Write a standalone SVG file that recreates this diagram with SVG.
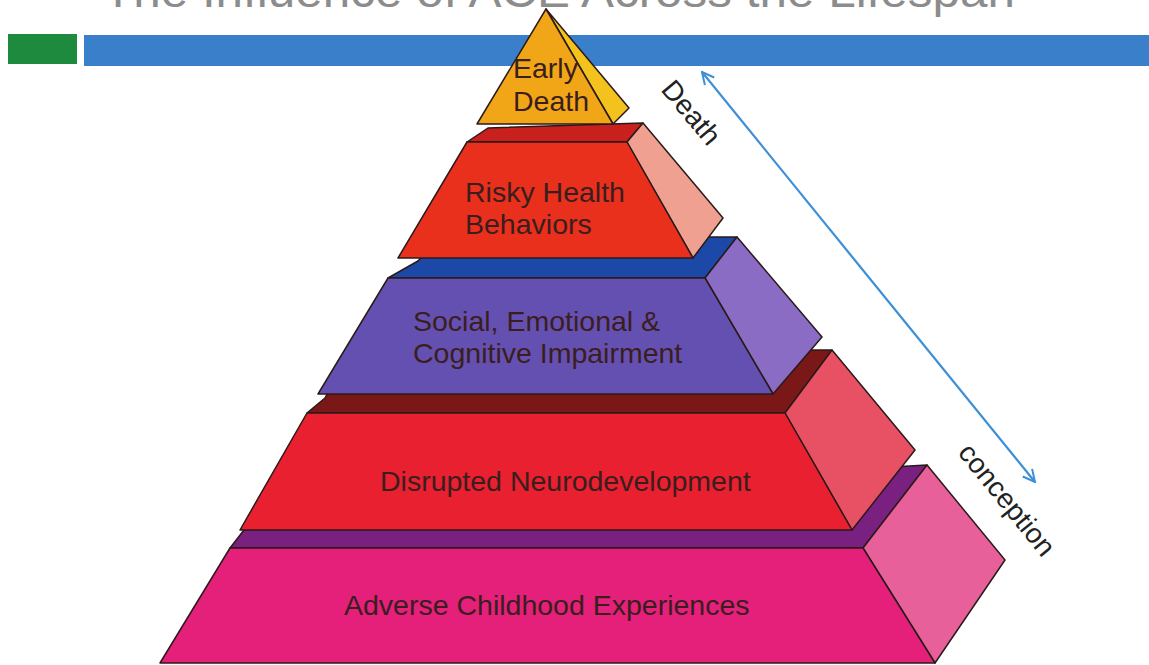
<svg xmlns="http://www.w3.org/2000/svg" width="1149" height="665" viewBox="0 0 1149 665">
<defs>
<style>
.f{stroke:#2a1a1a;stroke-width:1.5;stroke-linejoin:round}
.t{font-family:"Liberation Sans",Arial,sans-serif;font-size:28.5px;fill:#3a1e1e}
.lbl{font-family:"Liberation Sans",Arial,sans-serif;font-size:28px;fill:#222}
</style>
<marker id="ah" viewBox="0 0 14 14" refX="13" refY="7" markerWidth="14" markerHeight="14" markerUnits="userSpaceOnUse" orient="auto-start-reverse">
<path d="M1,1 L13,7 L1,13" fill="none" stroke="#3d8fd6" stroke-width="2"/>
</marker>
</defs>
<rect width="1149" height="665" fill="#ffffff"/>
<g id="header">
<text x="103" y="7" font-family="Liberation Sans, Arial, sans-serif" font-size="46" fill="#8c8c8c" textLength="912" lengthAdjust="spacingAndGlyphs">The Influence of ACE Across the Lifespan</text>
<rect x="8" y="34" width="69" height="30" fill="#1e8a3e"/>
<rect x="84" y="35" width="1065" height="31" fill="#3a7fca"/>
</g>
<g id="tier-adverse">
<polygon class="f" fill="#7a2080" points="230,548 244,530 840,470 927,465 863,548"/>
<polygon class="f" fill="#e8609a" points="863,548 927,465 1005,560 935,663"/>
<polygon class="f" fill="#e4207a" points="230,548 863,548 935,663 160,663"/>
<text class="t" x="344" y="615">Adverse Childhood Experiences</text>
</g>
<g id="tier-disrupted">
<polygon class="f" fill="#7a1818" points="307,413 325,398 350,350 832,350 785,413"/>
<polygon class="f" fill="#e85064" points="785,413 832,350 915,450 852,530"/>
<polygon class="f" fill="#e82030" points="307,413 785,413 852,530 240,530"/>
<text class="t" x="380" y="491">Disrupted Neurodevelopment</text>
</g>
<g id="tier-social">
<polygon class="f" fill="#1c48a8" points="388,278 418,261 440,237 737,237 705,278"/>
<polygon class="f" fill="#8a6cc4" points="705,278 737,237 822,337 773,394"/>
<polygon class="f" fill="#6450b0" points="388,278 705,278 773,394 318,394"/>
<text class="t" x="413" y="331" fill="#2a2040">Social, Emotional &amp;</text>
<text class="t" x="413" y="363" fill="#2a2040">Cognitive Impairment</text>
</g>
<g id="tier-risky">
<polygon class="f" fill="#c8201c" points="467,142 488,128 643,123 627,142"/>
<polygon class="f" fill="#f0a090" points="627,142 643,123 723,218 693,258"/>
<polygon class="f" fill="#e8301c" points="467,142 627,142 693,258 398,258"/>
<text class="t" x="465" y="202">Risky Health</text>
<text class="t" x="465" y="234">Behaviors</text>
</g>
<g id="tier-early-death">
<polygon class="f" fill="#f4c21c" points="546,9 629,108 613,124"/>
<polygon class="f" fill="#f0a616" points="546,9 613,124 477,124"/>
<text class="t" x="513" y="78" fill="#3a2a10">Early</text>
<text class="t" x="513" y="111" fill="#3a2a10">Death</text>
</g>
<g id="connectors">
<line x1="702" y1="72" x2="1035" y2="482" stroke="#3d8fd6" stroke-width="2.2" marker-start="url(#ah)" marker-end="url(#ah)"/>
</g>
<g id="axis-labels">
<text class="lbl" transform="translate(660,90) rotate(50)">Death</text>
<text class="lbl" transform="translate(957,453) rotate(51)">conception</text>
</g>
</svg>
